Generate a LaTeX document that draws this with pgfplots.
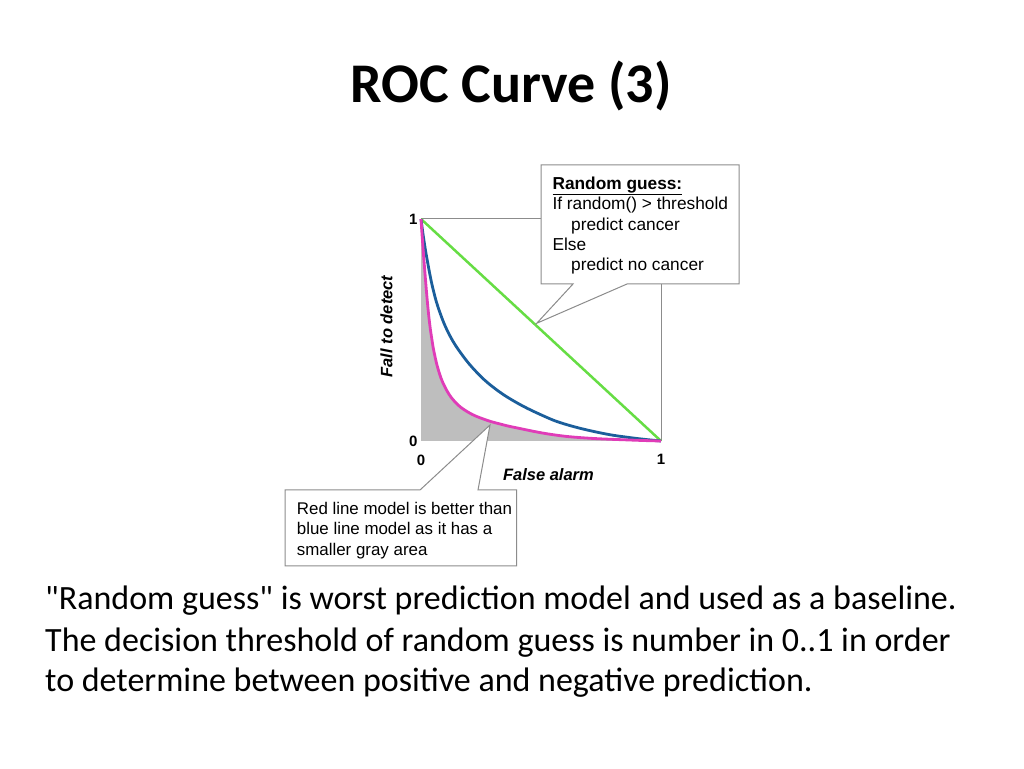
\documentclass[border=0pt]{standalone}
\usepackage{pgfplots}
\pgfplotsset{compat=1.18}
\usepackage{fontspec}
\setmainfont{Liberation Sans}
\newfontfamily\carlito{Carlito}
\definecolor{rocgreen}{HTML}{66DD44}
\definecolor{rocblue}{HTML}{1B5E9B}
\definecolor{rocmag}{HTML}{E03CB8}
\definecolor{boxgray}{HTML}{8C8C8C}
\definecolor{fillgray}{HTML}{BEBEBE}
\newcommand{\cfont}{\fontsize{17.3}{20}\selectfont}
\newcommand{\dfont}{\fontsize{16.9}{20}\selectfont}
\pgfplotstableread{
x y
0 1
0.005 0.92
0.014 0.79
0.028 0.61
0.040 0.495
0.05 0.425
0.071 0.325
0.099 0.245
0.14 0.178
0.196 0.13
0.265 0.097
0.335 0.075
0.404 0.058
0.54 0.03
0.68 0.014
0.88 0.004
1 0
}\redmodel
\pgfplotstableread{
x y
0 1
0.01 0.92
0.025 0.82
0.05 0.685
0.08 0.575
0.12 0.475
0.17 0.39
0.23 0.312
0.3 0.243
0.39 0.178
0.5 0.118
0.6 0.076
0.75 0.036
0.88 0.014
1 0
}\bluemodel
\begin{document}
\begin{tikzpicture}[x=1pt,y=1pt]
\useasboundingbox (0,0) rectangle (1024,768);
\fill[white] (0,0) rectangle (1024,768);
\begin{axis}[at={(421pt,327pt)}, anchor=south west, scale only axis,
  width=240pt, height=222pt, xmin=0, xmax=1, ymin=0, ymax=1,
  xtick={0,1}, ytick={0,1}, major tick length=0pt,
  axis line style={boxgray, line width=1pt},
  /pgf/number format/assume math mode=true,
  tick label style={font=\fontsize{15}{18}\selectfont\bfseries},
  xticklabel style={yshift=-10pt},
  xlabel={False alarm}, ylabel={Fall to detect},
  label style={font=\fontsize{16.5}{20}\selectfont\bfseries\itshape},
  xlabel style={at={(axis description cs:0.531,-0.153)}, anchor=center},
  ylabel style={at={(axis description cs:-0.144,0.516)}, anchor=center, rotate=0},
  clip=false]
\addplot[fill=fillgray, draw=none, smooth, tension=0.7] table {\redmodel} \closedcycle;
\addplot[rocgreen, line width=2.5pt] coordinates {(0,1) (1,0)};
\addplot[rocblue, line width=2.8pt, smooth, tension=0.7] table {\bluemodel};
\addplot[rocmag, line width=2.8pt, smooth, tension=0.7] table {\redmodel};
\end{axis}
\begin{scope}[yshift=768pt, y=-1pt]
% callout 1
\draw[boxgray, fill=white, line width=1pt, line join=miter]
  (541,165) -- (739,165) -- (739,284) -- (627,284) -- (536.7,323.3)
  -- (573,284) -- (541,284) -- cycle;
\node[anchor=base west, inner sep=0, font=\cfont] at (552.3,189.3) {\underline{\textbf{Random guess:}}};
\node[anchor=base west, inner sep=0, font=\cfont] at (552.3,210) {If random() > threshold};
\node[anchor=base west, inner sep=0, font=\cfont] at (571,230.7) {predict cancer};
\node[anchor=base west, inner sep=0, font=\cfont] at (552.3,250.7) {Else};
\node[anchor=base west, inner sep=0, font=\cfont] at (571,271) {predict no cancer};
% callout 2
\draw[boxgray, fill=white, line width=1pt, line join=miter]
  (285,490) -- (420,490) -- (490,425) -- (478,490) -- (516.7,490)
  -- (516.7,566) -- (285,566) -- cycle;
\node[anchor=base west, inner sep=0, font=\dfont] at (296.7,514.5) {Red line model is better than};
\node[anchor=base west, inner sep=0, font=\dfont] at (296.7,535) {blue line model as it has a};
\node[anchor=base west, inner sep=0, font=\dfont] at (296.7,555.5) {smaller gray area};
% title and text
\node[anchor=base, inner sep=0, font=\carlito\bfseries\fontsize{56}{66}\selectfont] at (511,103) {ROC Curve (3)};
\node[anchor=base west, inner sep=0, font=\carlito\fontsize{34}{40}\selectfont] at (45,610) {"Random guess" is worst prediction model and used as a baseline.};
\node[anchor=base west, inner sep=0, font=\carlito\fontsize{34}{40}\selectfont] at (45,651) {The decision threshold of random guess is number in 0..1 in order};
\node[anchor=base west, inner sep=0, font=\carlito\fontsize{34}{40}\selectfont] at (45,691) {to determine between positive and negative prediction.};
\end{scope}
\end{tikzpicture}
\end{document}
